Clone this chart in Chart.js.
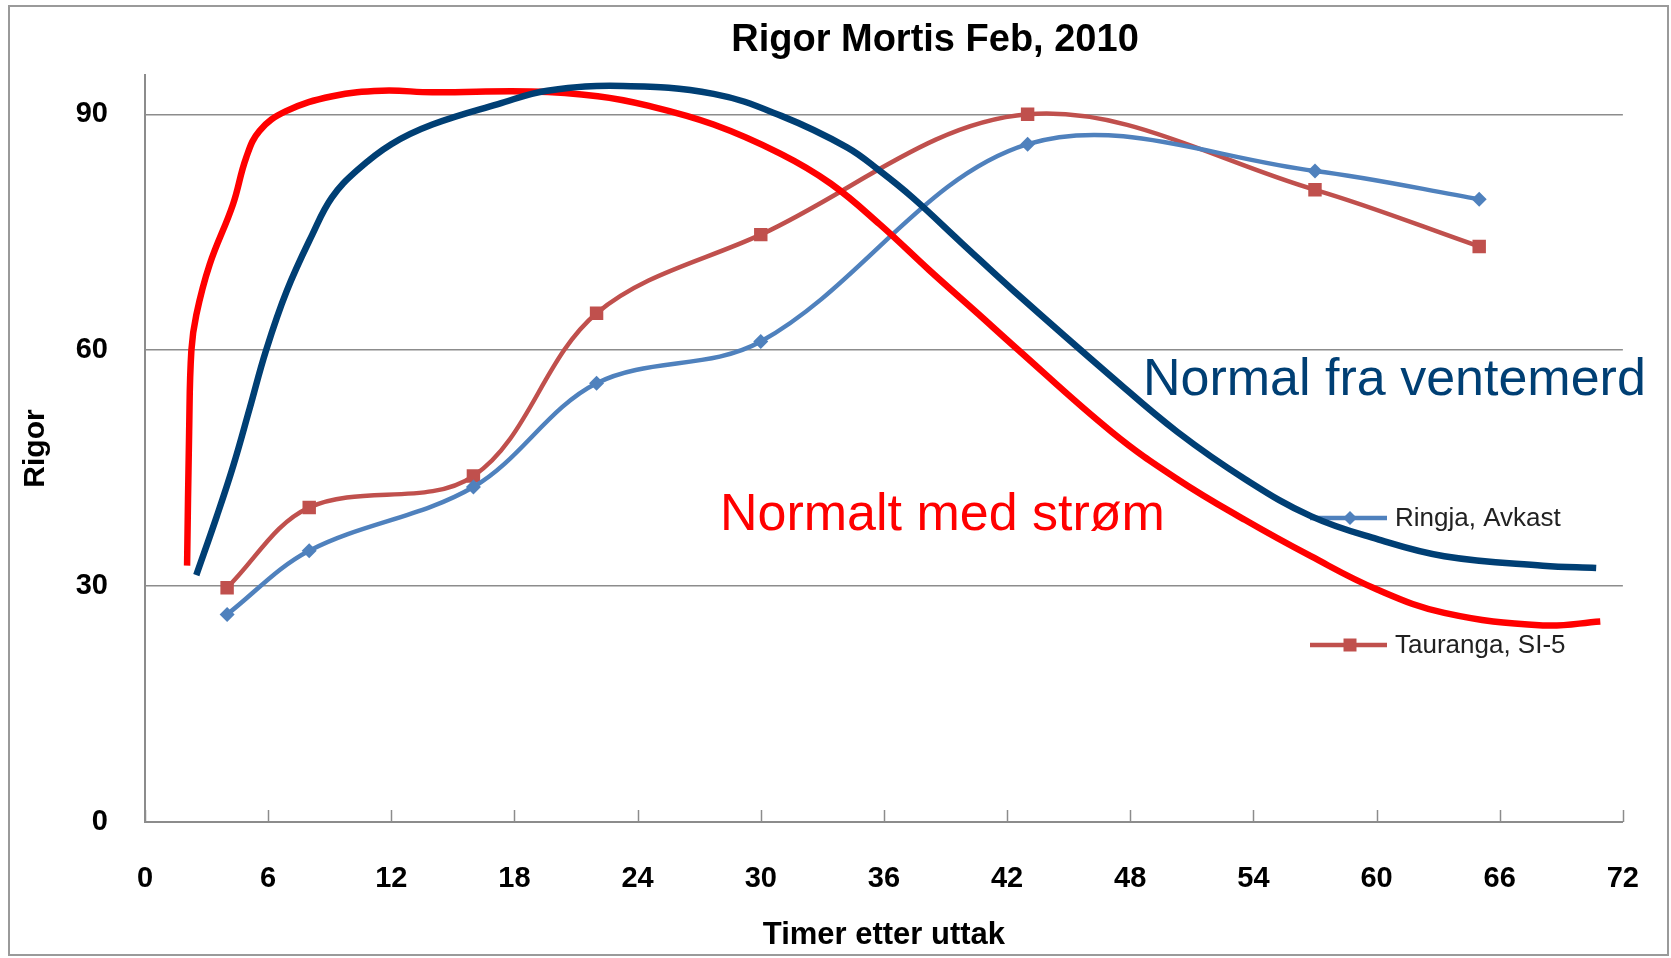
<!DOCTYPE html>
<html>
<head>
<meta charset="utf-8">
<title>Rigor Mortis Feb, 2010</title>
<script src="https://cdn.jsdelivr.net/npm/chart.js@4.4.0/dist/chart.umd.min.js"></script>
<style>
  html, body { margin: 0; padding: 0; background: #fff; overflow: hidden; }
  #wrap { width: 1671px; height: 958px; position: relative; }
</style>
</head>
<body>
<div id="wrap"><canvas id="rigor-chart"></canvas></div>
<script>
// measured series (hours after removal -> rigor)
var hours = [4, 8, 16, 22, 30, 43, 57, 65];
var ringja = [26.4, 34.5, 42.6, 55.8, 61.1, 86.2, 82.8, 79.2];
var tauranga = [29.8, 40.0, 44.0, 64.7, 74.7, 90.0, 80.4, 73.2];

// hand drawn "normal" curves
var ventemerdHours = [2.5, 3.5, 4.3, 5.1, 5.9, 6.9, 8.15, 9.1, 10.3, 12.0, 14.0, 17.2, 19.6, 23.3, 27.7, 31.0, 34.2, 35.8, 37.4, 39.8, 42.3, 47.1, 50.3, 53.6, 56.8, 60.0, 63.3, 68.1, 70.7];
var ventemerdRigor = [31.4, 38.9, 45.3, 52.6, 60.0, 67.5, 74.7, 79.4, 82.8, 86.2, 88.7, 91.3, 93.0, 93.6, 92.6, 89.8, 85.8, 82.8, 79.4, 73.6, 67.6, 56.6, 49.6, 43.6, 38.9, 36.0, 33.8, 32.6, 32.3];
var stromHours = [2.05, 2.15, 2.26, 2.5, 3.15, 4.28, 4.93, 5.58, 6.87, 9.13, 11.55, 14.0, 18.8, 22.06, 24.5, 27.7, 30.95, 33.4, 35.8, 38.2, 40.6, 42.3, 47.1, 50.3, 53.6, 56.8, 60.0, 63.3, 68.1, 70.9];
var stromRigor = [32.6, 49.6, 60.0, 64.5, 70.9, 78.5, 84.5, 87.9, 90.4, 92.3, 93.0, 92.8, 92.9, 92.3, 91.1, 88.7, 85.0, 81.2, 76.0, 70.2, 64.6, 60.6, 49.6, 43.6, 38.4, 33.8, 29.6, 26.6, 25.0, 25.5];

var xTicks = [0, 6, 12, 18, 24, 30, 36, 42, 48, 54, 60, 66, 72];
var yTicks = [0, 30, 60, 90];

var blue = '#4F81BD', brick = '#C0504D', navy = '#003F74', red = '#FF0000', axisGray = '#8C8C8C';

function pairs(xs, ys) {
  return xs.map(function (x, i) { return { x: x, y: ys[i] }; });
}

Chart.defaults.font.family = "'Liberation Sans', Arial, sans-serif";
Chart.defaults.color = '#000';

// white page + thin frame + title
var frame = {
  id: 'frame',
  beforeDraw: function (chart) {
    var ctx = chart.ctx;
    ctx.save();
    ctx.fillStyle = '#fff';
    ctx.fillRect(0, 0, chart.width, chart.height);
    ctx.strokeStyle = '#9a9a9a';
    ctx.lineWidth = 2;
    ctx.strokeRect(9, 6, 1659, 949);
    ctx.fillStyle = '#000';
    ctx.font = "bold 38px 'Liberation Sans', Arial, sans-serif";
    ctx.textAlign = 'center';
    ctx.textBaseline = 'alphabetic';
    ctx.fillText('Rigor Mortis Feb, 2010', 935, 51);
    ctx.restore();
  }
};

// inward tick marks on the time axis
var innerTicks = {
  id: 'innerTicks',
  afterDraw: function (chart) {
    var ctx = chart.ctx, sx = chart.scales.x, bottom = chart.chartArea.bottom;
    ctx.save();
    ctx.strokeStyle = axisGray;
    ctx.lineWidth = 1.5;
    xTicks.forEach(function (v) {
      var px = Math.round(sx.getPixelForValue(v)) + 0.5;
      ctx.beginPath();
      ctx.moveTo(px, bottom);
      ctx.lineTo(px, bottom - 12);
      ctx.stroke();
    });
    ctx.restore();
  }
};

// legend sits inside the plot, under the hand drawn curves
var innerLegend = {
  id: 'innerLegend',
  beforeDatasetsDraw: function (chart) {
    var ctx = chart.ctx;
    var rows = [518, 645];
    ctx.save();
    [2, 3].forEach(function (di, i) {
      var ds = chart.data.datasets[di], y = rows[i];
      ctx.strokeStyle = ds.borderColor;
      ctx.lineWidth = 4.5;
      ctx.beginPath();
      ctx.moveTo(1310, y);
      ctx.lineTo(1387, y);
      ctx.stroke();
      ctx.fillStyle = ds.borderColor;
      ctx.beginPath();
      if (ds.pointStyle === 'rectRot') {
        ctx.moveTo(1350 - 7, y); ctx.lineTo(1350, y - 7);
        ctx.lineTo(1350 + 7, y); ctx.lineTo(1350, y + 7);
      } else {
        ctx.rect(1350 - 6.5, y - 6.5, 13, 13);
      }
      ctx.closePath();
      ctx.fill();
      ctx.fillStyle = '#222';
      ctx.font = "26px 'Liberation Sans', Arial, sans-serif";
      ctx.textAlign = 'left';
      ctx.textBaseline = 'middle';
      ctx.fillText(ds.label, 1395, y + 1);
    });
    ctx.restore();
  }
};

var curveNotes = {
  id: 'curveNotes',
  afterDatasetsDraw: function (chart) {
    var ctx = chart.ctx;
    ctx.save();
    ctx.font = "52px 'Liberation Sans', Arial, sans-serif";
    ctx.textAlign = 'left';
    ctx.textBaseline = 'alphabetic';
    ctx.fillStyle = navy;
    ctx.fillText('Normal fra ventemerd', 1143, 395);
    ctx.fillStyle = red;
    ctx.fillText('Normalt med strøm', 720, 530);
    ctx.restore();
  }
};

var ctx = document.getElementById('rigor-chart');
var rigorChart = new Chart(ctx, {
  type: 'line',
  data: {
    datasets: [{
      label: 'Normal fra ventemerd',
      data: pairs(ventemerdHours, ventemerdRigor),
      borderColor: navy,
      borderWidth: 6.5,
      pointRadius: 0,
      tension: 0.4,
      order: 0
    }, {
      label: 'Normalt med strøm',
      data: pairs(stromHours, stromRigor),
      borderColor: red,
      borderWidth: 6.5,
      pointRadius: 0,
      tension: 0.4,
      order: 0
    }, {
      label: 'Ringja, Avkast',
      data: pairs(hours, ringja),
      borderColor: blue,
      backgroundColor: blue,
      borderWidth: 4.5,
      pointStyle: 'rectRot',
      pointRadius: 7.5,
      pointBorderWidth: 0,
      tension: 0.35,
      order: 1
    }, {
      label: 'Tauranga, SI-5',
      data: pairs(hours, tauranga),
      borderColor: brick,
      backgroundColor: brick,
      borderWidth: 4.5,
      pointStyle: 'rect',
      pointRadius: 9.5,
      pointBorderWidth: 0,
      tension: 0.35,
      order: 1
    }]
  },
  options: {
    responsive: true,
    maintainAspectRatio: false,
    animation: false,
    events: [],
    layout: { padding: { left: 12, top: 75, right: 41, bottom: 0 } },
    plugins: {
      legend: { display: false },
      title: { display: false },
      tooltip: { enabled: false }
    },
    scales: {
      x: {
        type: 'linear',
        min: 0,
        max: 72,
        afterBuildTicks: function (s) { s.ticks = xTicks.map(function (v) { return { value: v }; }); },
        afterFit: function (s) { s.height = 136; },
        grid: { display: false },
        border: { display: true, color: axisGray, width: 2 },
        ticks: { font: { size: 29, weight: 'bold' }, padding: 32, maxRotation: 0, autoSkip: false },
        title: {
          display: true,
          text: 'Timer etter uttak',
          font: { size: 31, weight: 'bold' },
          padding: { top: 0, bottom: 4 }
        }
      },
      y: {
        min: 0,
        max: 95,
        afterBuildTicks: function (s) { s.ticks = yTicks.map(function (v) { return { value: v }; }); },
        afterFit: function (s) { s.width = 133; },
        grid: { color: axisGray, lineWidth: 1.5, drawTicks: false },
        border: { display: true, color: axisGray, width: 2 },
        ticks: { font: { size: 29, weight: 'bold' }, padding: 37 },
        title: {
          display: true,
          text: 'Rigor',
          font: { size: 30, weight: 'bold' },
          padding: { top: 6, bottom: 0 }
        }
      }
    }
  },
  plugins: [frame, innerTicks, innerLegend, curveNotes]
});
</script>
</body>
</html>
